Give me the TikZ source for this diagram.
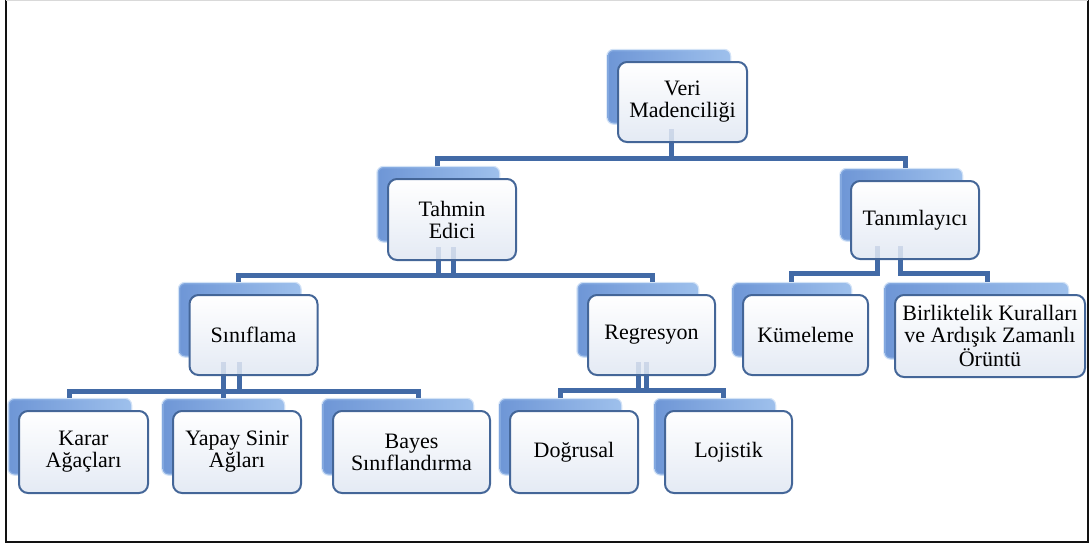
\documentclass[tikz,border=0pt]{standalone}
\usepackage{fontspec}
\setmainfont{Liberation Serif}
\usetikzlibrary{calc}

\pgfdeclarelayer{shadows}
\pgfdeclarelayer{wires}
\pgfsetlayers{shadows,wires,main}

\definecolor{wire}{RGB}{66,106,166}
\definecolor{cardedge}{RGB}{68,102,152}
\definecolor{cardlow}{RGB}{228,234,244}
\definecolor{backdark}{RGB}{110,150,214}
\definecolor{backlight}{RGB}{158,192,236}
\definecolor{frameline}{RGB}{18,18,18}

% card with its raised blue back plate: name, centre x, centre y, width, height, text
\newcommand{\cardbox}[6]{%
  \begin{pgfonlayer}{shadows}
    \path[backcard] ({#2-#4/2-10.5},{#3-#5/2-12}) rectangle ({#2+#4/2-17},{#3+#5/2-18.5});
  \end{pgfonlayer}
  \node[card, minimum width=#4pt, minimum height=#5pt] (#1) at (#2,#3) {#6};
}

\begin{document}
\begin{tikzpicture}[x=1pt,y=-1pt,
  card/.style={draw=cardedge, line width=2pt, rounded corners=9pt,
    top color=white, bottom color=cardlow, align=center, inner sep=2pt,
    font=\fontsize{22}{22}\selectfont},
  backcard/.style={shade, rounded corners=6pt, left color=backdark, right color=backlight,
    draw=backlight, draw opacity=0.45, line width=2.5pt},
  conn/.style={draw=wire, line width=5pt},
  ghost/.style={conn, draw opacity=0.16}]

\useasboundingbox (0,0) rectangle (1091,550);

% outer frame
\draw[line width=2.2pt, frameline] (6,0) -- (6,542) -- (1088,542) -- (1088,0);
\draw[line width=1.2pt, black!15] (6,0.6) -- (1088,0.6);

% cards
\cardbox{V}{682.5}{102}{129}{80}{Veri\\Madenciliği}
\cardbox{T}{452}{219.5}{128}{81}{Tahmin\\Edici}
\cardbox{N}{915}{220}{128}{78}{Tanımlayıcı}
\cardbox{S}{253.5}{335}{128}{80}{Sınıflama}
\cardbox{R}{651.5}{335}{127}{80}{Regresyon}
\cardbox{K}{805.5}{335}{125}{80}{Kümeleme}
\cardbox{B}{990}{336}{190}{82}{Birliktelik Kuralları\\ve Ardışık Zamanlı\\Örüntü}
\cardbox{A1}{83.5}{452}{129}{82}{Karar\\Ağaçları}
\cardbox{A2}{237}{452}{128}{82}{Yapay Sinir\\Ağları}
\cardbox{A3}{411.5}{452}{157}{82}{Bayes\\Sınıflandırma}
\cardbox{D}{574}{452}{128}{82}{Doğrusal}
\cardbox{L}{728.5}{452}{127}{82}{Lojistik}

% junction points
\coordinate (V-b) at ($(V.south)+(-11.5,15)$);
\coordinate (T-t) at ($(T.north)+(-15,-12)$);
\coordinate (N-t) at ($(N.north)+(-10,-12)$);
\coordinate (T-b) at ($(T.south)+(-14,14)$);
\coordinate (S-t) at ($(S.north)+(-15.5,-12)$);
\coordinate (R-t) at ($(R.north)+(0.5,-12)$);
\coordinate (K-t) at ($(K.north)+(-14.5,-12)$);
\coordinate (B-t) at ($(B.north)+(-3,-12)$);
\coordinate (S-b) at ($(S.south)+(-30.5,15)$);
\coordinate (A1-t) at ($(A1.north)+(-14.5,-12)$);
\coordinate (A2-t) at ($(A2.north)+(-14,-12)$);
\coordinate (A3-t) at ($(A3.north)+(6.5,-12)$);
\coordinate (R-b) at ($(R.south)+(-13.5,14)$);
\coordinate (D-t) at ($(D.north)+(-14,-12)$);
\coordinate (L-t) at ($(L.north)+(-5.5,-12)$);

\begin{pgfonlayer}{wires}
  % Veri Madenciliği
  \draw[conn] ($(V.south)+(-11.5,-14)$) -- (V-b);
  \draw[conn] (T-t) |- (V-b) -| (N-t);
  % Tahmin Edici
  \draw[conn] ($(T.south)+(-14,-14)$) -- (T-b);
  \draw[conn] ($(T.south)+(1,-14)$) -- ($(T.south)+(1,14)$);
  \draw[conn] (S-t) |- (T-b) -| (R-t);
  % Tanımlayıcı
  \draw[conn] ($(N.south)+(-38,-14)$) |- ($(K-t)+(0,-9)$) -- (K-t);
  \draw[conn] ($(N.south)+(-15,-14)$) |- ($(B-t)+(0,-9)$) -- (B-t);
  % Sınıflama
  \draw[conn] ($(S.south)+(-30.5,-14)$) -- (A2-t);
  \draw[conn] ($(S.south)+(-14.5,-14)$) -- ($(S.south)+(-14.5,15)$);
  \draw[conn] (A1-t) |- (S-b) -| (A3-t);
  % Regresyon
  \draw[conn] ($(R.south)+(-13.5,-14)$) -- (R-b);
  \draw[conn] ($(R.south)+(-5.5,-14)$) -- ($(R.south)+(-5.5,14)$);
  \draw[conn] (D-t) |- (R-b) -| (L-t);
\end{pgfonlayer}

% stems seen faintly through the cards
\draw[ghost] ($(V.south)+(-11.5,-14)$) -- ($(V.south)+(-11.5,-1)$);
\draw[ghost] ($(T.south)+(-14,-14)$) -- ($(T.south)+(-14,-1)$);
\draw[ghost] ($(T.south)+(1,-14)$) -- ($(T.south)+(1,-1)$);
\draw[ghost] ($(N.south)+(-38,-14)$) -- ($(N.south)+(-38,-1)$);
\draw[ghost] ($(N.south)+(-15,-14)$) -- ($(N.south)+(-15,-1)$);
\draw[ghost] ($(S.south)+(-30.5,-14)$) -- ($(S.south)+(-30.5,-1)$);
\draw[ghost] ($(S.south)+(-14.5,-14)$) -- ($(S.south)+(-14.5,-1)$);
\draw[ghost] ($(R.south)+(-13.5,-14)$) -- ($(R.south)+(-13.5,-1)$);
\draw[ghost] ($(R.south)+(-5.5,-14)$) -- ($(R.south)+(-5.5,-1)$);

\end{tikzpicture}
\end{document}
